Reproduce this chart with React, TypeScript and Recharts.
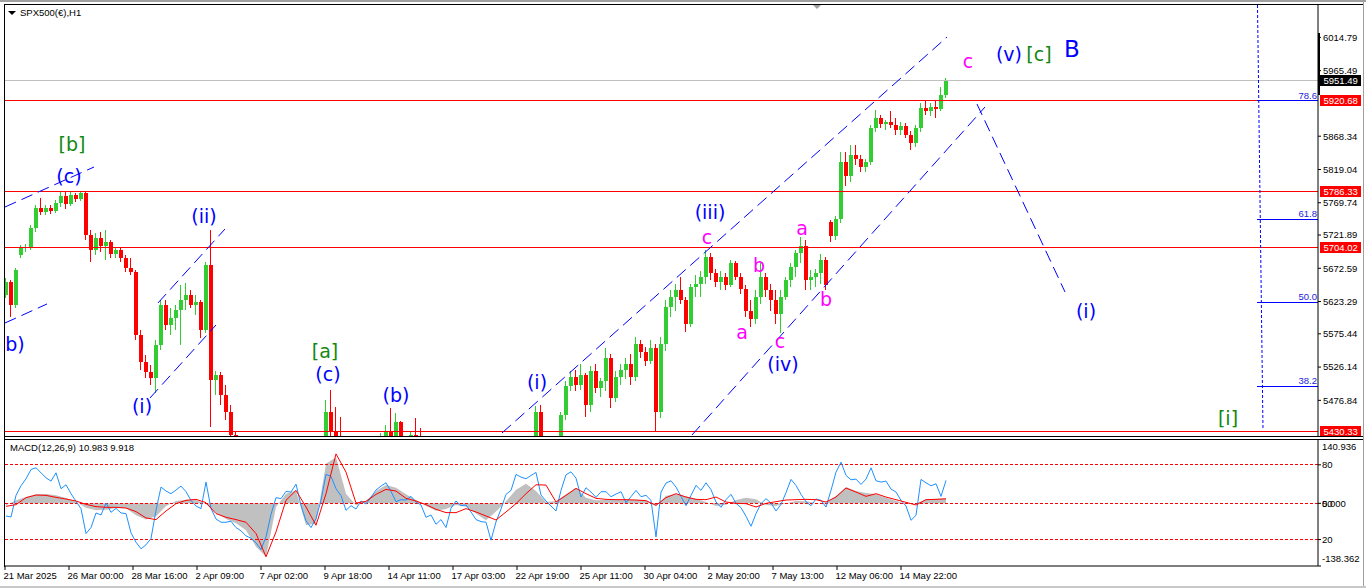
import React from 'react';
import { ComposedChart, Bar, Line, Area, XAxis, YAxis, ReferenceLine, ReferenceDot } from 'recharts';

const FONT = '"Liberation Sans", Arial, sans-serif';
const WAVE_FONT = '"DejaVu Sans", Verdana, sans-serif';
const BLUE = '#0000ff';
const GREEN = '#118811';
const MAGENTA = '#ff00ff';

// H1 chart squeezed to one slot per ~5 hours: [open, high, low, close]
const candles: [number, number, number, number][] = [
  [5633, 5658, 5629, 5652], [5652, 5655, 5600, 5618], [5618, 5673, 5614, 5670], [5692, 5707, 5688, 5703],
  [5703, 5709, 5697, 5704], [5704, 5737, 5700, 5732], [5732, 5766, 5726, 5762], [5762, 5777, 5752, 5756],
  [5756, 5766, 5752, 5762], [5762, 5766, 5753, 5757], [5757, 5774, 5754, 5769], [5769, 5786, 5763, 5780],
  [5780, 5786, 5760, 5768], [5768, 5786, 5765, 5781], [5781, 5784, 5771, 5775], [5775, 5787, 5772, 5784],
  [5784, 5786, 5714, 5722], [5722, 5729, 5682, 5700], [5700, 5725, 5692, 5717], [5717, 5726, 5697, 5706],
  [5706, 5729, 5685, 5712], [5712, 5715, 5688, 5694], [5694, 5704, 5688, 5700], [5700, 5703, 5682, 5688],
  [5688, 5692, 5667, 5673], [5673, 5688, 5663, 5667], [5667, 5670, 5566, 5574], [5574, 5581, 5522, 5534],
  [5534, 5544, 5510, 5519], [5519, 5529, 5500, 5510], [5510, 5566, 5488, 5559], [5559, 5626, 5552, 5618],
  [5618, 5626, 5581, 5589], [5589, 5614, 5574, 5599], [5599, 5618, 5581, 5611], [5611, 5648, 5559, 5626],
  [5626, 5651, 5611, 5633], [5633, 5640, 5614, 5618], [5618, 5633, 5603, 5623], [5623, 5626, 5569, 5581],
  [5581, 5682, 5577, 5677], [5677, 5729, 5437, 5507], [5507, 5520, 5485, 5514], [5514, 5519, 5470, 5485],
  [5485, 5500, 5448, 5460], [5460, 5470, 5423, 5426], [5426, 5432, 5380, 5396], [5396, 5400, 5300, 5320],
  [5320, 5340, 5250, 5270], [5270, 5280, 5120, 5150], [5150, 5160, 5060, 5074], [5074, 5090, 4900, 4950],
  [4950, 5100, 4835, 5050], [5050, 5246, 5000, 5120], [5120, 5150, 4980, 5060], [5060, 5150, 5020, 5110],
  [5110, 5267, 5100, 5220], [5220, 5250, 5100, 5130], [5130, 5150, 4980, 5000], [5000, 5020, 4910, 4960],
  [4960, 5000, 4856, 4900], [4900, 4990, 4880, 4960], [4960, 5010, 4920, 4990], [4990, 5050, 4960, 5020],
  [5020, 5478, 5000, 5460], [5460, 5492, 5420, 5430], [5430, 5467, 5380, 5400], [5400, 5452, 5300, 5330],
  [5330, 5350, 5200, 5230], [5230, 5260, 5115, 5150], [5150, 5220, 5120, 5200], [5200, 5280, 5180, 5260],
  [5260, 5320, 5230, 5300], [5300, 5370, 5280, 5350], [5350, 5410, 5320, 5390], [5390, 5428, 5370, 5410],
  [5410, 5440, 5395, 5430], [5430, 5465, 5405, 5420], [5420, 5458, 5400, 5445], [5445, 5446, 5380, 5395],
  [5395, 5410, 5360, 5380], [5380, 5432, 5370, 5425], [5425, 5451, 5400, 5415], [5415, 5436, 5340, 5350],
  [5350, 5370, 5280, 5300], [5300, 5330, 5220, 5260], [5260, 5300, 5240, 5280], [5280, 5330, 5260, 5310],
  [5310, 5320, 5250, 5270], [5270, 5300, 5240, 5282], [5282, 5290, 5200, 5220], [5220, 5230, 5140, 5160],
  [5160, 5200, 5100, 5180], [5180, 5190, 5110, 5130], [5130, 5170, 5101, 5158], [5158, 5200, 5140, 5190],
  [5190, 5240, 5170, 5230], [5230, 5290, 5210, 5270], [5270, 5300, 5240, 5287], [5287, 5320, 5270, 5310],
  [5310, 5350, 5290, 5340], [5340, 5380, 5320, 5360], [5360, 5390, 5340, 5375], [5375, 5400, 5350, 5370],
  [5370, 5410, 5355, 5400], [5400, 5420, 5380, 5410], [5410, 5469, 5400, 5460], [5460, 5470, 5380, 5400],
  [5400, 5420, 5360, 5390], [5390, 5410, 5370, 5400], [5400, 5420, 5380, 5415], [5415, 5460, 5410, 5455],
  [5455, 5505, 5448, 5498], [5498, 5520, 5490, 5512], [5512, 5522, 5490, 5500], [5500, 5530, 5492, 5515],
  [5515, 5518, 5452, 5470], [5470, 5528, 5460, 5520], [5520, 5530, 5488, 5495], [5495, 5510, 5482, 5505],
  [5505, 5555, 5490, 5540], [5540, 5545, 5465, 5480], [5480, 5520, 5475, 5512], [5512, 5530, 5500, 5522],
  [5522, 5540, 5508, 5530], [5530, 5545, 5500, 5512], [5512, 5570, 5505, 5560], [5560, 5566, 5540, 5548],
  [5548, 5556, 5528, 5535], [5535, 5566, 5530, 5555], [5555, 5560, 5432, 5460], [5460, 5570, 5450, 5560],
  [5560, 5625, 5550, 5615], [5615, 5640, 5600, 5630], [5630, 5650, 5610, 5640], [5640, 5660, 5620, 5625],
  [5625, 5630, 5578, 5590], [5590, 5650, 5585, 5645], [5645, 5662, 5630, 5650], [5650, 5668, 5630, 5660],
  [5660, 5700, 5650, 5690], [5690, 5695, 5655, 5665], [5665, 5672, 5645, 5652], [5652, 5668, 5640, 5660],
  [5660, 5666, 5640, 5648], [5648, 5685, 5645, 5680], [5680, 5684, 5655, 5660], [5660, 5665, 5635, 5642],
  [5642, 5648, 5600, 5610], [5610, 5625, 5586, 5598], [5598, 5640, 5590, 5630], [5630, 5680, 5620, 5660],
  [5660, 5665, 5630, 5640], [5640, 5650, 5610, 5625], [5625, 5640, 5590, 5605], [5605, 5640, 5577, 5630],
  [5630, 5660, 5625, 5655], [5655, 5680, 5645, 5675], [5675, 5700, 5660, 5695], [5695, 5719, 5680, 5705],
  [5705, 5715, 5640, 5655], [5655, 5670, 5640, 5660], [5660, 5672, 5645, 5665], [5665, 5694, 5650, 5685],
  [5685, 5690, 5640, 5648], [5741, 5744, 5712, 5720], [5720, 5750, 5715, 5745], [5745, 5845, 5740, 5830],
  [5830, 5845, 5795, 5810], [5810, 5855, 5800, 5840], [5840, 5855, 5825, 5835], [5835, 5840, 5815, 5822],
  [5822, 5835, 5815, 5830], [5830, 5885, 5825, 5880], [5880, 5907, 5875, 5895], [5895, 5900, 5880, 5886],
  [5886, 5893, 5878, 5890], [5890, 5906, 5880, 5885], [5885, 5895, 5870, 5878], [5878, 5890, 5870, 5884],
  [5884, 5888, 5865, 5870], [5870, 5876, 5848, 5858], [5858, 5885, 5852, 5880], [5880, 5918, 5875, 5910],
  [5910, 5922, 5900, 5905], [5905, 5918, 5898, 5912], [5912, 5920, 5895, 5908], [5908, 5942, 5906, 5930],
  [5930, 5955, 5925, 5951],
];

// blue oscillator, one value per candle slot
const oscillator = [
  -27.9, -30.1, 17.6, 38.8, 54.2, 74.8, 78.4, 67.4, 56.4, 49.1, 67.4, 32.3, 41.0, 21.3, 4.4, -11.7,
  -66.7, -53.5, -21.3, -25.7, 0.7, -19.8, -11.0, -21.3, -22.7, -65.2, -85.8, -100.4, -91.6, -77.7, -15.4, 35.9,
  27.1, 21.3, 29.3, 38.1, 25.7, 6.6, -5.9, -11.7, 46.9, -11.7, -34.5, -41.8, -41.8, -39.6, -53.5, -60.8,
  -71.8, -77.0, -87.2, -101.9, -74.0, -24.2, 12.5, 10.3, 26.4, 24.9, 42.5, -4.4, -38.8, -53.5, -33.7, 6.6,
  63.8, 59.4, 32.3, 16.9, -15.4, -5.1, -12.5, 5.1, -1.5, 13.2, 29.3, 38.1, 45.4, 26.4, 3.7, 8.1,
  7.3, 15.4, 2.9, -3.7, -30.8, -25.7, -46.2, -35.9, -53.5, -11.0, 5.1, -5.1, -3.7, -19.1, -35.9, -40.3,
  -41.8, -81.4, -41.0, -12.5, 19.8, 28.6, 63.8, 57.9, 54.2, 61.6, 68.2, 18.3, 5.1, -5.9, -16.9, 28.6,
  63.0, 69.6, 55.7, 13.9, 34.5, 24.9, 13.2, 25.7, 25.7, 14.7, 20.5, 25.7, 1.5, 14.7, 28.6, 14.7,
  17.6, 6.6, -74.0, 24.9, 44.7, 49.8, 35.9, 15.4, -5.1, 17.6, 39.6, 28.6, 45.4, 30.1, 2.9, -8.8,
  8.1, 19.8, 0, -9.5, -28.6, -50.6, -22.7, -0.7, 10.3, 0.7, -16.9, -2.2, 23.5, 52.8, 39.6, 19.8,
  3.7, -5.1, 9.5, 6.6, -8.1, 28.6, 68.9, 90.9, 61.6, 52.0, 53.5, 41.8, 53.5, 78.4, 49.8, 46.9,
  49.1, 31.5, 24.9, 6.6, -5.9, -37.4, -26.4, 52.8, 45.4, 38.8, 43.2, 15.4, 50.6,
];

// MACD main and signal, every second slot
const macdMain = [
  -4.4, 6.6, 13.9, 19.8, 20.5, 17.6, 11.7, 3.7, -9.5, -15.4, -13.9, -10.3, -11.0, -26.4, -35.9, -28.6,
  -5.9, 5.1, 8.1, 7.3, -2.2, -21.3, -34.5, -44.0, -59.4, -96.0, -118.0, -8.1, 21.3, 28.6, -48.4, -44.7,
  87.2, 101.9, 21.3, -4.4, 5.1, 27.1, 40.3, 34.5, 19.8, 7.3, -5.9, -16.1, -12.5, -3.7, -7.3, -22.7,
  -37.4, -18.3, 4.4, 30.1, 43.2, 27.1, 2.9, 5.1, 19.8, 34.5, 12.5, 6.6, 7.3, 8.1, 7.3, 7.3,
  6.6, -6.6, 16.9, 19.8, 15.4, 10.3, 2.9, -5.9, -2.9, 7.3, 12.5, 8.8, -3.7, -5.9, 0, 5.1,
  4.4, 0.7, 1.5, 16.9, 35.9, 27.1, 22.7, 19.8, 12.5, 5.9, -1.5, 0, 8.8, 10.3, 10.983,
];
const macdSignal = [
  -6.6, -2.9, 12.5, 18.3, 17.6, 13.2, 9.5, 5.1, -2.2, -7.3, -8.8, -8.8, -10.3, -18.3, -32.3, -35.9,
  -16.9, -0.7, 6.6, 8.8, 1.5, -22.7, -30.8, -35.9, -41.8, -66.7, -118.0, -63.0, 6.6, 28.6, -8.1, -48.4,
  21.3, 109.2, 68.9, 0.7, 4.4, 19.8, 30.8, 27.1, 11.0, 5.1, -2.9, -13.2, -20.5, -20.5, -11.7, -19.1,
  -27.9, -36.7, -19.1, -0.7, 21.3, 41.0, 40.3, 2.9, 17.6, 33.0, 21.3, 11.0, 8.8, 8.1, 8.1, 7.3,
  5.9, -4.4, 12.5, 21.3, 13.9, 8.8, 8.1, 13.9, 2.9, 0, -0.7, -8.1, 0, 3.7, 7.3, 8.1,
  8.8, 8.1, 2.9, 13.9, 33.7, 24.9, 15.4, 21.3, 13.9, 8.1, 2.2, -3.7, 8.1, 8.8, 9.918,
];

const priceTicks = [6014.79, 5965.49, 5868.34, 5819.04, 5769.74, 5721.89, 5672.59, 5623.29, 5575.44, 5526.14, 5476.84];
const levelPrices = [5920.68, 5786.33, 5704.02, 5430.33];
const lastPrice = 5951.49;
const fibRatios = ['78.6', '61.8', '50.0', '38.2'];
const fibPrices = [5920.68, 5745.2, 5622.2, 5498.1];

const macdLevels = [85, 0, -80];
const macdTickValues = [140.936, 85, 0, -80, -138.362];
const macdTickLabels = [['140.936'], ['80'], ['50', '0.000'], ['20'], ['-138.362']];

const timeTicks = [-0.2, 12.6, 25.4, 38.2, 51.0, 63.8, 76.6, 89.4, 102.2, 115.0, 127.8, 140.6, 153.4, 166.2, 179.0];
const timeLabels = [
  '21 Mar 2025', '26 Mar 00:00', '28 Mar 16:00', '2 Apr 09:00', '7 Apr 02:00', '9 Apr 18:00', '14 Apr 11:00',
  '17 Apr 03:00', '22 Apr 19:00', '25 Apr 11:00', '30 Apr 04:00', '2 May 20:00', '7 May 13:00', '12 May 06:00',
  '14 May 22:00',
];

// elliott wave labels: text, slot, price, colour, size
const waveLabels: [string, number, number, string, number][] = [
  ['[b]', 13.2, 5856.8, GREEN, 19],
  ['(c)', 12.6, 5809.4, BLUE, 19],
  ['b)', 1.8, 5560.4, BLUE, 19],
  ['(ii)', 39.6, 5750.1, BLUE, 19],
  ['(i)', 27.2, 5468.5, BLUE, 19],
  ['[a]', 63.8, 5550.0, GREEN, 19],
  ['(c)', 64.4, 5516.0, BLUE, 19],
  ['(b)', 78.0, 5484.8, BLUE, 19],
  ['(i)', 106.2, 5504.0, BLUE, 19],
  ['(iii)', 140.8, 5756.0, BLUE, 19],
  ['c', 140.2, 5719.0, MAGENTA, 19],
  ['b', 150.6, 5677.5, MAGENTA, 19],
  ['a', 147.2, 5578.2, MAGENTA, 19],
  ['c', 154.8, 5564.8, MAGENTA, 19],
  ['(iv)', 155.4, 5530.8, BLUE, 19],
  ['a', 159.2, 5732.3, MAGENTA, 19],
  ['b', 164.0, 5627.1, MAGENTA, 19],
  ['c', 192.4, 5979.8, MAGENTA, 19],
  ['(v)', 200.6, 5990.2, BLUE, 19],
  ['[c]', 206.6, 5990.2, GREEN, 19],
  ['B', 213.2, 5997.6, BLUE, 23],
  ['(i)', 216.0, 5609.3, BLUE, 19],
  ['[i]', 244.4, 5450.7, GREEN, 19],
];

// trend channels: [slot1, price1, slot2, price2, dash]
const trendLines: [number, number, number, number, string][] = [
  [-0.2, 5763.4, 17.6, 5822.7, '12 6'],
  [-0.2, 5591.5, 8.2, 5619.7, '12 6'],
  [30.4, 5621.2, 43.8, 5730.8, '12 6'],
  [28.8, 5480.4, 42.0, 5588.5, '12 6'],
  [99.2, 5428.5, 188.2, 6015.3, '12 6'],
  [137.2, 5425.5, 195.8, 5911.6, '12 6'],
  [194.2, 5916.0, 211.8, 5637.5, '12 6'],
  [250.3, 6062.8, 251.4, 5432.9, '3 2'],
];

const X_DOMAIN: [number, number] = [-0.4, 262.4];
const PRICE_DOMAIN: [number, number] = [5424.0, 6064.3];

const priceData = candles.map(([o, h, l, c], i) => ({ t: i, o, h, l, c }));
const macdData = oscillator.map((v, i) => ({
  t: i,
  osc: v,
  main: i % 2 === 0 ? macdMain[i / 2] : null,
  signal: i % 2 === 0 ? macdSignal[i / 2] : null,
}));

function Candle(props: any) {
  const { x, y, width, height, payload } = props;
  if (!payload || x == null || y == null || height == null) return null;
  const { o, h, l, c } = payload;
  const top = Math.min(y, y + height);
  const span = Math.abs(height);
  const k = h > l ? span / (h - l) : 0;
  const px = Math.floor(x + width / 2);
  const bodyTop = top + (h - Math.max(o, c)) * k;
  const bodyBottom = top + (h - Math.min(o, c)) * k;
  const color = c >= o ? '#32cd32' : '#ff0000';
  return (
    <g shapeRendering="crispEdges">
      <line x1={px + 0.5} x2={px + 0.5} y1={top} y2={top + span} stroke={color} strokeWidth={1} />
      <rect x={px - 1} y={bodyTop} width={4} height={Math.max(1, bodyBottom - bodyTop)} fill={color} />
    </g>
  );
}

const centerOf = (props: any) => {
  const vb = props.viewBox || {};
  return [vb.x + (vb.width || 0) / 2, vb.y + (vb.height || 0) / 2];
};

const waveText = (text: string, color: string, size: number) => (props: any) => {
  const [cx, cy] = centerOf(props);
  return (
    <text x={cx} y={cy} textAnchor="middle" dominantBaseline="central" fill={color} fontSize={size} fontFamily={WAVE_FONT}>
      {text}
    </text>
  );
};

const priceTag = (text: string, bg: string) => (props: any) => {
  const [cx, cy] = centerOf(props);
  return (
    <g>
      <rect x={Math.round(cx + 2.5)} y={Math.round(cy - 5.5)} width={41} height={11} fill={bg} />
      <text x={cx + 6} y={cy} dominantBaseline="central" fontSize={9.5} fontFamily={FONT} fill="#ffffff">
        {text}
      </text>
    </g>
  );
};

const fibText = (text: string) => (props: any) => {
  const [cx, cy] = centerOf(props);
  return (
    <text x={cx - 0.5} y={cy - 2} textAnchor="end" fontSize={9.5} fontFamily={FONT} fill="#2222dd">
      {text}
    </text>
  );
};

function MacdTick(props: any) {
  const { x, y, payload } = props;
  const idx = macdTickValues.indexOf(payload.value);
  if (idx < 0) return null;
  const shift = idx === 0 ? 6.5 : idx === macdTickValues.length - 1 ? -7.5 : 0;
  return (
    <g>
      {macdTickLabels[idx].map((s) => (
        <text key={s} x={x - 1} y={y + shift} dominantBaseline="central" fontSize={9.5} fontFamily={FONT} fill="#000">
          {s}
        </text>
      ))}
    </g>
  );
}

function TimeTick(props: any) {
  const { x, y, payload } = props;
  const idx = timeTicks.indexOf(payload.value);
  if (idx < 0) return null;
  return (
    <text x={x - 1.5} y={y + 6.5} textAnchor="start" fontSize={9.5} fontFamily={FONT} fill="#000">
      {timeLabels[idx]}
    </text>
  );
}

const line = (style: React.CSSProperties) => <div style={{ position: 'absolute', pointerEvents: 'none', ...style }} />;

export default function App() {
  return (
    <div style={{ position: 'absolute', left: 0, top: 0, width: 1366, height: 588, background: '#ffffff', overflow: 'hidden' }}>
      <div style={{ position: 'absolute', left: 0, top: 0 }}>
        <ComposedChart width={1366} height={438} data={priceData} margin={{ top: 4, right: 0, bottom: 2, left: 4 }}>
          <XAxis dataKey="t" type="number" domain={X_DOMAIN} allowDataOverflow hide />
          <YAxis
            orientation="right"
            width={48}
            domain={PRICE_DOMAIN}
            allowDataOverflow
            ticks={priceTicks}
            interval={0}
            tickFormatter={(v: number) => v.toFixed(2)}
            tick={{ fontSize: 9.5, fill: '#000', fontFamily: FONT }}
            tickSize={3}
            tickLine={{ stroke: '#000' }}
            axisLine={{ stroke: '#000' }}
          />
          <ReferenceLine y={lastPrice} stroke="#c0c0c0" shapeRendering="crispEdges" />
          {levelPrices.map((p) => (
            <ReferenceLine key={p} y={p} stroke="#ff0000" shapeRendering="crispEdges" />
          ))}
          {fibPrices.map((p) => (
            <ReferenceLine
              key={`fib-${p}`}
              segment={[{ x: 250.2, y: p }, { x: 262.4, y: p }]}
              stroke="#0000ff"
              shapeRendering="crispEdges"
            />
          ))}
          {trendLines.map(([t1, p1, t2, p2, dash], i) => (
            <ReferenceLine
              key={`tl-${i}`}
              segment={[{ x: t1, y: p1 }, { x: t2, y: p2 }]}
              stroke="#0000ff"
              strokeDasharray={dash}
            />
          ))}
          <Bar dataKey={(d: any) => [d.l, d.h]} barSize={5} isAnimationActive={false} shape={(p: any) => <Candle {...p} />} />
          {waveLabels.map(([text, t, p, color, size], i) => (
            <ReferenceDot key={`w-${i}`} x={t} y={p} r={0} fill="none" stroke="none" label={waveText(text, color, size)} />
          ))}
          {fibPrices.map((p, i) => (
            <ReferenceDot key={`fl-${i}`} x={262.3} y={p} r={0} fill="none" stroke="none" label={fibText(fibRatios[i])} />
          ))}
          <ReferenceDot x={262.3} y={lastPrice} r={0} fill="none" stroke="none" label={priceTag(lastPrice.toFixed(2), '#000000')} />
          {levelPrices.map((p) => (
            <ReferenceDot key={`tag-${p}`} x={262.3} y={p} r={0} fill="none" stroke="none" label={priceTag(p.toFixed(2), '#ff0000')} />
          ))}
        </ComposedChart>
      </div>

      <div style={{ position: 'absolute', left: 0, top: 438 }}>
        <ComposedChart width={1366} height={150} data={macdData} margin={{ top: 1.5, right: 0, bottom: 0, left: 4 }}>
          <XAxis
            dataKey="t"
            type="number"
            domain={X_DOMAIN}
            allowDataOverflow
            ticks={timeTicks}
            interval={0}
            height={22}
            tickSize={4}
            tick={(p: any) => <TimeTick {...p} />}
            tickLine={{ stroke: '#000' }}
            axisLine={{ stroke: '#000' }}
          />
          <YAxis
            orientation="right"
            width={48}
            domain={[-138.362, 140.936]}
            allowDataOverflow
            ticks={macdTickValues}
            interval={0}
            tickSize={3}
            tick={(p: any) => <MacdTick {...p} />}
            tickLine={{ stroke: '#000' }}
            axisLine={{ stroke: '#000' }}
          />
          <Area
            dataKey="main"
            type="linear"
            fill="#c0c0c0"
            fillOpacity={1}
            stroke="none"
            baseValue={0}
            connectNulls
            isAnimationActive={false}
          />
          {macdLevels.map((v) => (
            <ReferenceLine key={v} y={v} stroke="#ff0000" strokeDasharray="3 2" shapeRendering="crispEdges" />
          ))}
          <Line dataKey="osc" type="linear" stroke="#1e90ff" strokeWidth={1} dot={false} isAnimationActive={false} />
          <Line dataKey="signal" type="linear" stroke="#ff0000" strokeWidth={1} dot={false} connectNulls isAnimationActive={false} />
        </ComposedChart>
      </div>

      {line({ left: 0, top: 0, width: 1366, height: 2, background: '#a0a0a0' })}
      {line({ left: 4, top: 4, width: 1359, height: 1, background: '#000' })}
      {line({ left: 4, top: 4, width: 1, height: 563, background: '#000' })}
      {line({ left: 4, top: 436, width: 1359, height: 1, background: '#000' })}
      {line({ left: 4, top: 439, width: 1359, height: 1, background: '#000' })}
      {line({ left: 1363, top: 0, width: 1, height: 588, background: '#a0a0a0' })}
      {line({ left: 0, top: 586, width: 1366, height: 2, background: '#c8c8c8' })}
      {line({ left: 1318, top: 33, width: 2, height: 62, background: '#000' })}
      <div
        style={{
          position: 'absolute', left: 813, top: 5, width: 0, height: 0,
          borderLeft: '4.5px solid transparent', borderRight: '4.5px solid transparent', borderTop: '4px solid #a0a0a0',
        }}
      />
      <div
        style={{
          position: 'absolute', left: 8, top: 11, width: 0, height: 0,
          borderLeft: '4px solid transparent', borderRight: '4px solid transparent', borderTop: '4px solid #000',
        }}
      />
      <div style={{ position: 'absolute', left: 20, top: 7, fontSize: 9.5, lineHeight: '11px', fontFamily: FONT, color: '#000' }}>
        SPX500(€),H1
      </div>
      <div style={{ position: 'absolute', left: 10, top: 441.5, fontSize: 9.5, lineHeight: '11px', fontFamily: FONT, color: '#000' }}>
        MACD(12,26,9) 10.983 9.918
      </div>
    </div>
  );
}
